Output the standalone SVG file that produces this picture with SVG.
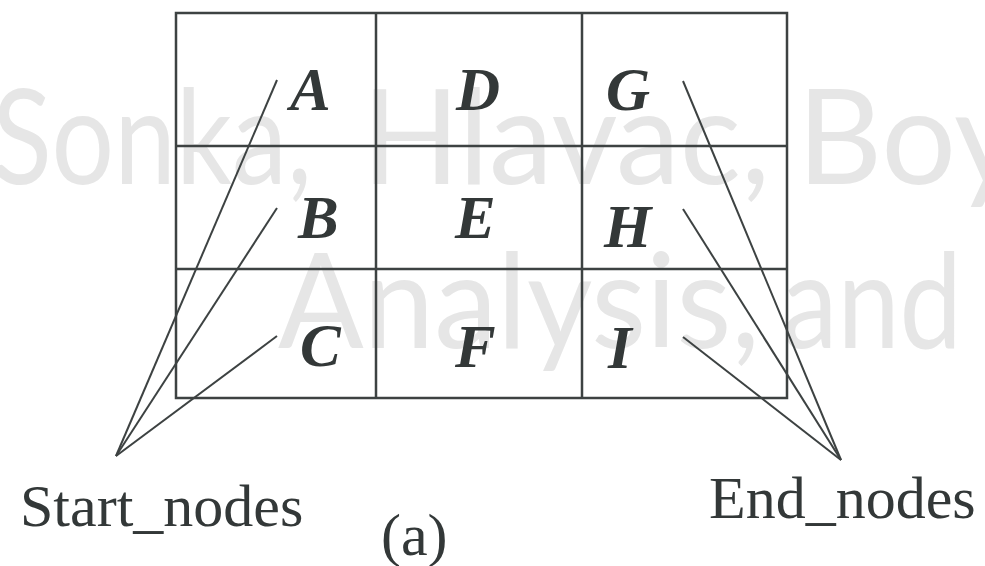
<svg xmlns="http://www.w3.org/2000/svg" width="985" height="566" viewBox="0 0 985 566">
<style>
.wm{font-family:Lato,"Open Sans",sans-serif;font-size:132px;fill:#e6e6e6}
.grid{fill:none;stroke:#3d4242;stroke-width:2.5}
.conn{stroke:#3d4242;stroke-width:2;fill:none}
.lbl{font-family:"Liberation Serif","Times New Roman",serif;font-size:61px;font-weight:bold;font-style:italic;fill:#333838}
.cap{font-family:"Liberation Serif","Times New Roman",serif;font-size:60px;fill:#333838}
</style>
<rect width="985" height="566" fill="#ffffff"/>
<g id="watermark">
<text class="wm" x="-8" y="184" textLength="320" lengthAdjust="spacingAndGlyphs">Sonka,</text>
<text class="wm" x="362" y="184" textLength="408" lengthAdjust="spacingAndGlyphs">Hlavac,</text>
<text class="wm" x="797" y="184">Boy</text>
<text class="wm" x="278" y="348" textLength="482" lengthAdjust="spacingAndGlyphs">Analysis,</text>
<text class="wm" x="782" y="348" textLength="180" lengthAdjust="spacingAndGlyphs">and</text>
</g>
<g id="grid">
<rect class="grid" x="176" y="13" width="611" height="385"/>
<line class="grid" x1="376" y1="13" x2="376" y2="398"/>
<line class="grid" x1="582" y1="13" x2="582" y2="398"/>
<line class="grid" x1="176" y1="146" x2="787" y2="146"/>
<line class="grid" x1="176" y1="269" x2="787" y2="269"/>
</g>
<g id="node-A"><text class="lbl" x="290" y="110">A</text></g>
<g id="node-D"><text class="lbl" x="456" y="110">D</text></g>
<g id="node-G"><text class="lbl" x="606" y="110">G</text></g>
<g id="node-B"><text class="lbl" x="298" y="238">B</text></g>
<g id="node-E"><text class="lbl" x="455" y="238">E</text></g>
<g id="node-H"><text class="lbl" x="604" y="247">H</text></g>
<g id="node-C"><text class="lbl" x="300" y="366">C</text></g>
<g id="node-F"><text class="lbl" x="455" y="367">F</text></g>
<g id="node-I"><text class="lbl" x="608" y="368">I</text></g>
<g id="start-nodes"><text class="cap" x="20" y="526">Start_nodes</text></g>
<g id="end-nodes"><text class="cap" x="709" y="518">End_nodes</text></g>
<g id="caption"><text class="cap" x="381" y="555">(a)</text></g>
<g id="connectors">
<line class="conn" x1="116" y1="456" x2="277" y2="80"/>
<line class="conn" x1="116" y1="456" x2="277" y2="208"/>
<line class="conn" x1="116" y1="456" x2="277" y2="336"/>
<line class="conn" x1="841" y1="460" x2="683" y2="81"/>
<line class="conn" x1="841" y1="460" x2="683" y2="209"/>
<line class="conn" x1="841" y1="460" x2="683" y2="337"/>
</g>
</svg>
